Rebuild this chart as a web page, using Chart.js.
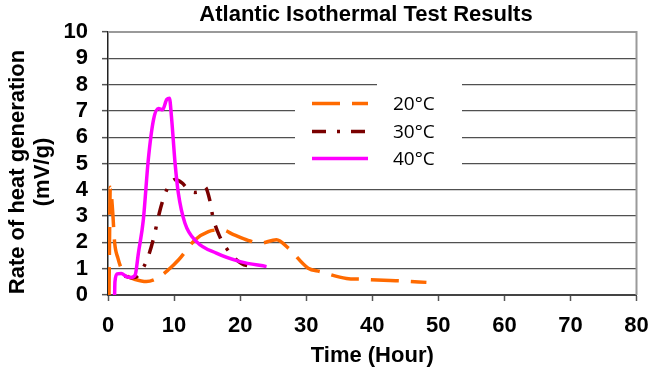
<!DOCTYPE html>
<html>
<head>
<meta charset="utf-8">
<script src="https://cdn.jsdelivr.net/npm/chart.js@4.4.0/dist/chart.umd.min.js"></script>
<style>
  html, body { margin: 0; padding: 0; background: #fff; }
  #wrap { width: 649px; height: 376px; }
</style>
</head>
<body>
<div id="wrap"><canvas id="c" width="649" height="376"></canvas></div>
<script>
// Text
const chartTitle = 'Atlantic Isothermal Test Results';
const xAxisTitle = 'Time (Hour)';
const yAxisTitle = ['Rate of heat generation', '(mV/g)'];
const seriesNames = ['20°C', '30°C', '40°C'];

// Tick labels
const xTicks = [0, 10, 20, 30, 40, 50, 60, 70, 80];
const yTicks = [0, 1, 2, 3, 4, 5, 6, 7, 8, 9, 10];

// 20 °C run
const hours20 = [0.15, 0.35, 0.7, 1.0, 1.5, 2.2, 3.0, 4.0, 5.8, 7.4, 9.1, 10.7, 13.2, 15.2, 17.2, 19.0, 21.2, 23.0, 25.5, 27.3, 30.3, 32.1, 36.1, 38.4, 42.7, 44.7, 48.2];
const rate20  = [0,    4.1,  3.2, 2.0, 1.4, 0.9, 0.7, 0.6, 0.51, 0.63, 0.95, 1.34, 2.1, 2.41, 2.48, 2.3, 2.08, 1.97, 2.1, 1.78, 1.02, 0.89, 0.63, 0.6, 0.55, 0.53, 0.48];

// 30 °C run
const hours30 = [2.5, 3.5, 4.2, 5.0, 6.0, 6.9, 7.75, 8.5, 9.3, 10.15, 11.2, 12.2, 13.1, 14.0, 14.7, 15.45, 15.85, 16.9, 18.6, 20.2, 22.0];
const rate30  = [0.72, 0.66, 0.68, 0.9, 1.4, 2.16, 3.1, 3.75, 4.2, 4.39, 4.26, 4.0, 3.9, 3.95, 4.1, 3.56, 3.0, 2.23, 1.56, 1.2, 1.06];

// 40 °C run
const hours40 = [1.0, 1.05, 1.4, 2.0, 2.8, 3.5, 4.1, 4.6, 5.35, 6.1, 6.9, 7.65, 8.25, 8.9, 9.3, 9.6, 10.15, 10.65, 11.65, 13.4, 16.4, 20.0, 24.0];
const rate40  = [0,   0.5,  0.8, 0.82, 0.7, 0.67, 0.75, 1.59, 2.86, 5.15, 6.68, 7.09, 7.04, 7.44, 7.48, 6.8, 5.02, 3.87, 2.73, 2.03, 1.59, 1.27, 1.08];

const toPoints = (xs, ys) => xs.map((x, i) => ({ x, y: ys[i] }));

const BOLD = '"Liberation Sans", Arial, sans-serif';

// Chart title, y-axis title, plot frame and the boxed legend
const decorations = {
  id: 'decorations',
  beforeDatasetsDraw(chart) {
    const { ctx, chartArea: a } = chart;
    ctx.save();
    // frame on the top and right of the plot
    ctx.strokeStyle = '#9a9a9a';
    ctx.lineWidth = 2;
    ctx.beginPath();
    ctx.moveTo(a.left, a.top);
    ctx.lineTo(a.right, a.top);
    ctx.lineTo(a.right, a.bottom);
    ctx.stroke();
    // legend background hides the grid behind it
    ctx.fillStyle = '#fff';
    ctx.fillRect(295, 90, 167, 82);
    ctx.fillRect(377, 78, 85, 14);
    ctx.restore();
  },
  afterDatasetsDraw(chart) {
    const { ctx } = chart;
    ctx.save();
    // legend entries
    const rows = [103.5, 131.5, 158.5];
    chart.data.datasets.forEach((ds, i) => {
      const y = rows[i];
      ctx.strokeStyle = ds.borderColor;
      ctx.lineWidth = ds.borderWidth;
      ctx.setLineDash(ds.borderDash || []);
      ctx.beginPath();
      ctx.moveTo(312, y);
      ctx.lineTo(368, y);
      ctx.stroke();
      ctx.setLineDash([]);
      ctx.fillStyle = '#000';
      ctx.font = '19px "Open Sans", sans-serif';
      ctx.textAlign = 'left';
      ctx.textBaseline = 'middle';
      ctx.fillText(ds.label, 393, y + 1);
    });
    // chart title
    ctx.fillStyle = '#000';
    ctx.font = 'bold 22px ' + BOLD;
    ctx.textAlign = 'center';
    ctx.textBaseline = 'middle';
    ctx.fillText(chartTitle, 366, 15);
    // y-axis title, two rotated lines
    ctx.translate(0, 172);
    ctx.rotate(-Math.PI / 2);
    ctx.fillText(yAxisTitle[0], 0, 18);
    ctx.fillText(yAxisTitle[1], 0, 43);
    ctx.restore();
  }
};

new Chart(document.getElementById('c'), {
  type: 'line',
  data: {
    datasets: [
      { label: seriesNames[0], data: toPoints(hours20, rate20), borderColor: '#ff6a00', borderWidth: 3.5, borderDash: [28, 12], order: 2 },
      { label: seriesNames[1], data: toPoints(hours30, rate30), borderColor: '#7a0000', borderWidth: 3.5, borderDash: [14, 11, 3, 11], order: 1 },
      { label: seriesNames[2], data: toPoints(hours40, rate40), borderColor: '#ff00ff', borderWidth: 3.5, order: 0 }
    ]
  },
  options: {
    responsive: false,
    animation: false,
    devicePixelRatio: 1,
    layout: { padding: { top: 32, right: 0, bottom: 0, left: 0 } },
    elements: {
      point: { radius: 0 },
      line: { cubicInterpolationMode: 'monotone', fill: false }
    },
    plugins: {
      legend: { display: false },
      tooltip: { enabled: false }
    },
    scales: {
      x: {
        type: 'linear', min: 0, max: 80,
        afterBuildTicks: s => { s.ticks = xTicks.map(v => ({ value: v })); },
        afterFit: s => { s.height = 81; s.paddingRight = 12.5; },
        grid: { drawOnChartArea: false, tickLength: 6, tickColor: '#555', tickWidth: 1.5 },
        border: { color: '#444', width: 2 },
        ticks: { color: '#000', padding: 12, maxRotation: 0, autoSkip: false, font: { family: BOLD, size: 22, weight: 'bold' } },
        title: { display: true, text: xAxisTitle, color: '#000', padding: { top: 0, bottom: 7 }, font: { family: BOLD, size: 22, weight: 'bold' } }
      },
      y: {
        type: 'linear', min: 0, max: 10,
        afterBuildTicks: s => { s.ticks = yTicks.map(v => ({ value: v })); },
        afterFit: s => { s.width = 108; },
        grid: { color: '#505050', lineWidth: 1.3, tickLength: 6, tickColor: '#555', tickWidth: 1.5 },
        border: { color: '#222', width: 1.5 },
        ticks: { color: '#000', padding: 14, autoSkip: false, font: { family: BOLD, size: 22, weight: 'bold' } }
      }
    }
  },
  plugins: [decorations]
});
</script>
</body>
</html>
